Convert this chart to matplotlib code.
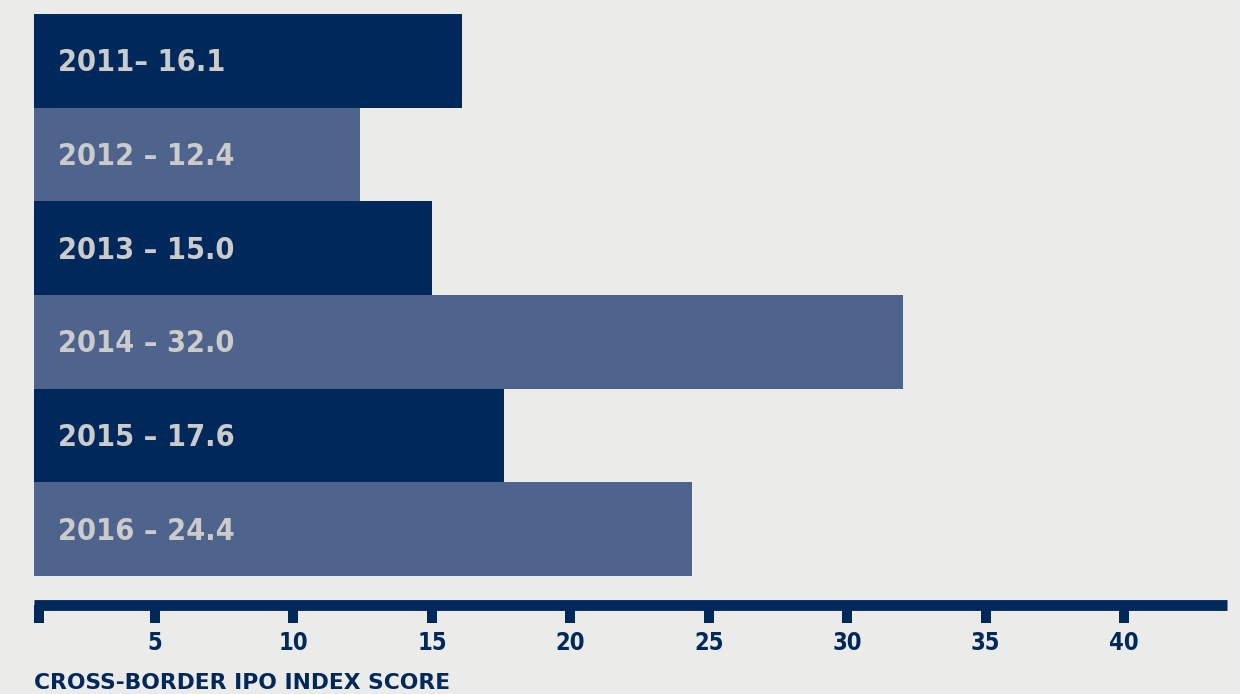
"""Cross-border IPO index score by year, horizontal bars"""
import matplotlib
matplotlib.use('Agg')
import matplotlib.pyplot as plt

BG = '#EBEBE9'
NAVY = '#00285A'
SLATE = '#4F648C'
LABEL_GREY = '#CBCBCB'

years = ['2011', '2012', '2013', '2014', '2015', '2016']
scores = [16.1, 12.4, 15.0, 32.0, 17.6, 24.4]
bar_labels = ['2011\u2013 16.1', '2012 \u2013 12.4', '2013 \u2013 15.0',
              '2014 \u2013 32.0', '2015 \u2013 17.6', '2016 \u2013 24.4']
ticks = [5, 10, 15, 20, 25, 30, 35, 40]
x_label = 'CROSS-BORDER IPO INDEX SCORE'

W, H = 1240, 694
fig = plt.figure(figsize=(W / 100, H / 100), dpi=100, facecolor=BG)
ax = fig.add_axes([34 / W, 1 - 605 / H, (1227 - 34) / W, (605 - 14) / H])
ax.set_facecolor(BG)

colors = [NAVY if i % 2 == 0 else SLATE for i in range(len(years))]
pos = list(range(len(years)))
ax.barh(pos, scores, height=1.0, color=colors, left=0)

x_min, x_max = 0.63, 43.71
ax.set_xlim(x_min, x_max)
ax.set_ylim(len(years) - 0.5 + 0.31, -0.5)

cond = dict(family='DejaVu Sans', fontstretch='condensed', fontweight='bold')
for p, lab in zip(pos, bar_labels):
    ax.annotate(lab, xy=(x_min, p), xytext=(17.5, -1.5), textcoords='offset points',
                ha='left', va='center', color=LABEL_GREY, fontsize=22, **cond)

for side in ['top', 'right', 'left']:
    ax.spines[side].set_visible(False)
ax.spines['bottom'].set_color(NAVY)
ax.spines['bottom'].set_linewidth(7.8)
ax.spines['bottom'].set_capstyle('butt')
ax.set_yticks([])
ax.set_xticks(ticks)
ax.set_xticklabels([str(t) for t in ticks], color=NAVY, fontsize=17, **cond)
ax.tick_params(axis='x', length=12.6, width=7.2, color=NAVY, pad=6)
# short tick at the left end of the axis line
ax.set_xticks([x_min + 5 / 27.69], minor=True)
ax.tick_params(axis='x', which='minor', length=12.6, width=7.2, color=NAVY)

fig.text(34 / W, 1 - 683 / H, x_label, ha='left', va='center', color=NAVY,
         fontsize=15.7, fontweight='bold', family='DejaVu Sans')

fig.savefig('out.png', dpi=100, facecolor=BG)
